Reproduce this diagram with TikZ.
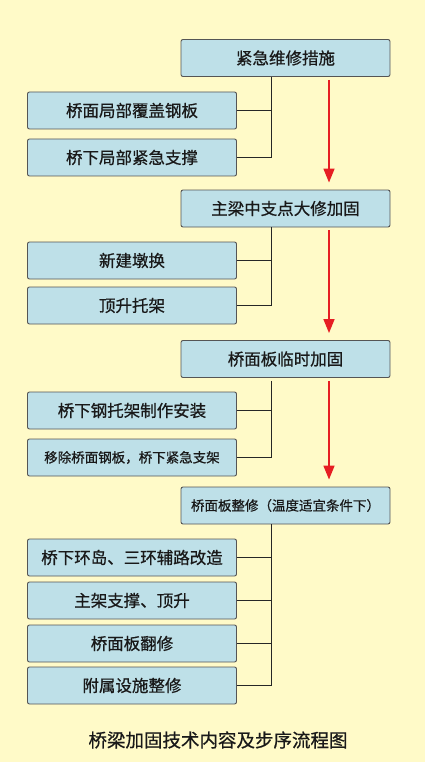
\documentclass[tikz,border=0pt]{standalone}
\usepackage{fontspec}
\newfontfamily\cjk{Noto Sans CJK SC}
\newfontfamily\cjkb[FakeBold=0.7]{Noto Sans CJK SC}
\usetikzlibrary{arrows.meta}
\definecolor{bgyel}{RGB}{255,250,200}
\definecolor{boxblue}{RGB}{190,224,232}
\definecolor{boxedge}{RGB}{85,85,85}
\definecolor{arrred}{RGB}{230,30,35}
\definecolor{txt}{RGB}{25,25,25}
\tikzset{
  box/.style={rectangle, draw=boxedge, line width=0.9pt, fill=boxblue, rounded corners=2pt,
    minimum width=209pt, minimum height=37pt, inner sep=0pt, text=txt,
    font=\cjkb\fontsize{16.5}{18}\selectfont},
  smallbox/.style={box, font=\cjkb\fontsize{13.5}{15}\selectfont},
  conn/.style={line width=1.6pt, draw=black!85},
  redarr/.style={line width=1.6pt, draw=arrred, -{Triangle[length=14pt,width=11pt]}, shorten >=7pt, shorten <=3pt},
}
\begin{document}
\begin{tikzpicture}[x=1pt,y=-1pt]
\fill[bgyel] (0,0) rectangle (425,762);
\useasboundingbox (0,0) rectangle (425,762);
\coordinate (jx) at (271.5,0);
\coordinate (ax) at (329,0);
% main boxes
\node[box] (m1) at (285.5,58) {紧急维修措施};
\node[box] (m2) at (285.5,208.5) {主梁中支点大修加固};
\node[box] (m3) at (285.5,359) {桥面板临时加固};
\node[smallbox] (m4) at (285.5,505.5) {桥面板整修（温度适宜条件下）};
% side boxes
\node[box] (a1) at (132,110.5) {桥面局部覆盖钢板};
\node[box] (a2) at (132,157.5) {桥下局部紧急支撑};
\node[box] (b1) at (132,260.5) {新建墩换};
\node[box] (b2) at (132,305.5) {顶升托架};
\node[box] (c1) at (132,410.5) {桥下钢托架制作安装};
\node[smallbox] (c2) at (132,457.5) {移除桥面钢板，桥下紧急支架};
\node[box] (d1) at (132,557.5) {桥下环岛、三环辅路改造};
\node[box] (d2) at (132,600.5) {主架支撑、顶升};
\node[box] (d3) at (132,643.5) {桥面板翻修};
\node[box] (d4) at (132,685.5) {附属设施整修};
% connectors
\draw[conn] (m1.south -| jx) |- (a2.east);
\draw[conn] (a1.east) -- (a1.east -| jx);
\draw[conn] (m2.south -| jx) |- (b2.east);
\draw[conn] (b1.east) -- (b1.east -| jx);
\draw[conn, shorten <=3pt] (m3.south -| jx) |- (c2.east);
\draw[conn] (c1.east) -- (c1.east -| jx);
\draw[conn] (m4.south -| jx) |- (d4.east);
\draw[conn] (d1.east) -- (d1.east -| jx);
\draw[conn] (d2.east) -- (d2.east -| jx);
\draw[conn] (d3.east) -- (d3.east -| jx);
% red arrows
\draw[redarr] (m1.south -| ax) -- (m2.north -| ax);
\draw[redarr] (m2.south -| ax) -- (m3.north -| ax);
\draw[redarr] (m3.south -| ax) -- (m4.north -| ax);
% caption
\node[font=\cjkb\fontsize{18.5}{20}\selectfont, text=txt] (cap) at (218,740) {桥梁加固技术内容及步序流程图};
\end{tikzpicture}
\end{document}
